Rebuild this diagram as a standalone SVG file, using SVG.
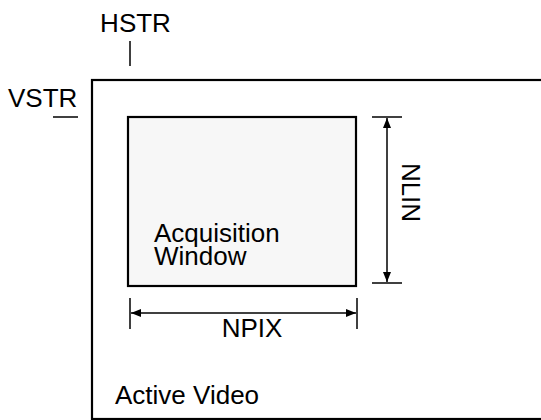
<svg xmlns="http://www.w3.org/2000/svg" width="541" height="420" viewBox="0 0 541 420">
<defs>
<marker id="ah" viewBox="0 0 10 8" refX="10" refY="4" markerWidth="10" markerHeight="8" markerUnits="userSpaceOnUse" orient="auto-start-reverse">
<path d="M0,0 L10,4 L0,8 Z" fill="#000"/>
</marker>
<style>
.t{font-family:"Liberation Sans",Arial,sans-serif;font-size:26px;fill:#000}
.box{stroke:#000;stroke-width:2.2}
.ln{stroke:#000;stroke-width:1.5;fill:none}
</style>
</defs>
<rect width="541" height="420" fill="#fff"/>
<g id="active-video">
<rect class="box" x="92" y="80" width="500" height="339" fill="#fff"/>
<text class="t" x="115" y="404">Active Video</text>
</g>
<g id="acquisition-window">
<rect class="box" x="128" y="117" width="228" height="169" fill="#f7f7f7"/>
<text class="t" x="154" y="242">Acquisition</text>
<text class="t" x="154" y="265">Window</text>
</g>
<g id="hstr">
<text class="t" x="135.5" y="32" text-anchor="middle">HSTR</text>
</g>
<g id="vstr">
<text class="t" x="8" y="107">VSTR</text>
</g>
<g id="nlin">
<text class="t" transform="translate(401.5,192.5) rotate(90)" text-anchor="middle">NLIN</text>
</g>
<g id="npix">
<text class="t" x="252" y="337" text-anchor="middle">NPIX</text>
</g>
<g id="connectors">
<line class="ln" x1="130" y1="41" x2="130" y2="66"/>
<line class="ln" x1="53" y1="117" x2="78" y2="117"/>
<line class="ln" x1="372" y1="117" x2="402" y2="117"/>
<line class="ln" x1="372" y1="283" x2="402" y2="283"/>
<line class="ln" x1="387" y1="118" x2="387" y2="282" marker-start="url(#ah)" marker-end="url(#ah)"/>
<line class="ln" x1="130" y1="298" x2="130" y2="329"/>
<line class="ln" x1="357" y1="298" x2="357" y2="329"/>
<line class="ln" x1="131" y1="313" x2="356" y2="313" marker-start="url(#ah)" marker-end="url(#ah)"/>
</g>
</svg>
